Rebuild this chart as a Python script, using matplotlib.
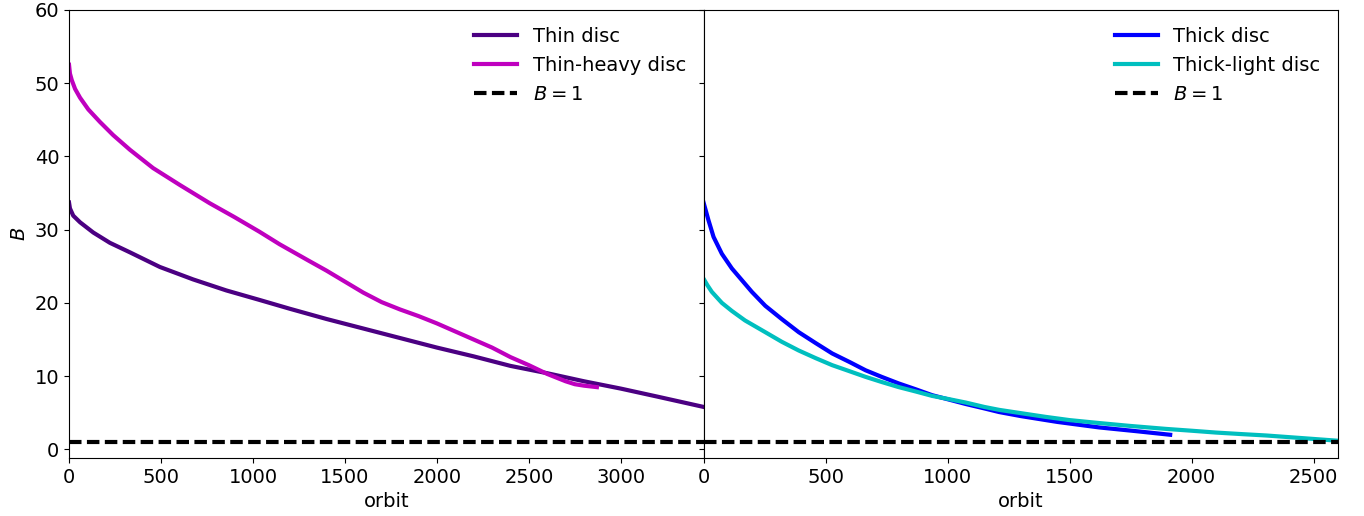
import matplotlib
matplotlib.use("Agg")
import matplotlib.pyplot as plt
import numpy as np

# Thin disc
thin_x = [0, 5, 23, 60, 132, 222, 331, 494, 675, 855, 1036, 1200, 1400, 1600,
          1800, 2000, 2200, 2400, 2600, 2800, 3000, 3200, 3450]
thin_b = [33.7, 32.9, 31.9, 31.0, 29.6, 28.2, 26.9, 24.9, 23.2, 21.7, 20.4, 19.2,
          17.8, 16.5, 15.2, 13.9, 12.7, 11.4, 10.4, 9.3, 8.3, 7.2, 5.8]

# Thin-heavy disc
heavy_x = [0, 5, 15, 33, 60, 105, 168, 240, 331, 457, 602, 765, 900, 1036,
           1145, 1300, 1400, 1500, 1600, 1700, 1800, 1900, 2000, 2100, 2200,
           2300, 2400, 2500, 2600, 2700, 2750, 2800, 2870]
heavy_b = [52.5, 51.3, 50.4, 49.2, 48.0, 46.4, 44.7, 42.9, 40.9, 38.4, 36.1, 33.6,
           31.7, 29.7, 28.0, 25.8, 24.4, 22.9, 21.4, 20.1, 19.1, 18.2, 17.2, 16.1,
           15.0, 13.9, 12.6, 11.5, 10.3, 9.3, 8.9, 8.7, 8.5]

# Thick disc
thick_x = [0, 20, 41, 75, 116, 157, 198, 253, 320, 390, 460, 527, 600, 664,
           730, 800, 870, 937, 1000, 1074, 1150, 1211, 1300, 1450, 1621, 1770, 1912]
thick_b = [33.7, 31.3, 29.0, 26.7, 24.7, 23.1, 21.5, 19.6, 17.8, 16.0, 14.5, 13.1,
           11.9, 10.8, 9.9, 9.0, 8.2, 7.4, 6.85, 6.2, 5.6, 5.1, 4.55, 3.75, 3.0,
           2.5, 2.0]

# Thick-light disc
light_x = [0, 16, 34, 75, 116, 170, 253, 320, 390, 460, 527, 600, 664, 730, 800,
           870, 937, 1000, 1074, 1150, 1211, 1300, 1400, 1500, 1621, 1750, 1895,
           2000, 2100, 2200, 2306, 2450, 2593]
light_b = [23.3, 22.4, 21.5, 20.0, 18.9, 17.6, 16.0, 14.7, 13.5, 12.45, 11.5, 10.65,
           9.9, 9.2, 8.5, 7.9, 7.3, 6.9, 6.4, 5.8, 5.4, 4.95, 4.45, 4.0, 3.6, 3.2,
           2.8, 2.55, 2.3, 2.1, 1.9, 1.55, 1.2]

plt.rcParams['font.size'] = 14

fig, (ax1, ax2) = plt.subplots(1, 2, sharey=True, figsize=(13.64, 5.16), dpi=100)
fig.subplots_adjust(left=0.0506, right=0.981, top=0.981, bottom=0.112, wspace=0)

# Panel izquierdo
ax1.plot(thin_x, thin_b, color='indigo', lw=3, label='Thin disc')
ax1.plot(heavy_x, heavy_b, color='m', lw=3, label='Thin-heavy disc')
ax1.axhline(1, color='k', ls=(0, (3, 1.3)), lw=3, label='$B=1$')
ax1.set_xlim(0, 3450)
ax1.set_ylim(-1.2, 60)
ax1.set_xticks([0, 500, 1000, 1500, 2000, 2500, 3000])
ax1.set_xlabel('orbit')
ax1.set_ylabel('$B$')
ax1.legend(loc='upper right', frameon=False, handlelength=2.2)

# Panel derecho
ax2.plot(thick_x, thick_b, color='b', lw=3, label='Thick disc')
ax2.plot(light_x, light_b, color='c', lw=3, label='Thick-light disc')
ax2.axhline(1, color='k', ls=(0, (3, 1.3)), lw=3, label='$B=1$')
ax2.set_xlim(0, 2600)
ax2.set_xticks([0, 500, 1000, 1500, 2000, 2500])
ax2.set_xlabel('orbit')
ax2.legend(loc='upper right', frameon=False, handlelength=2.2)

fig.savefig('out.png', dpi=100)
